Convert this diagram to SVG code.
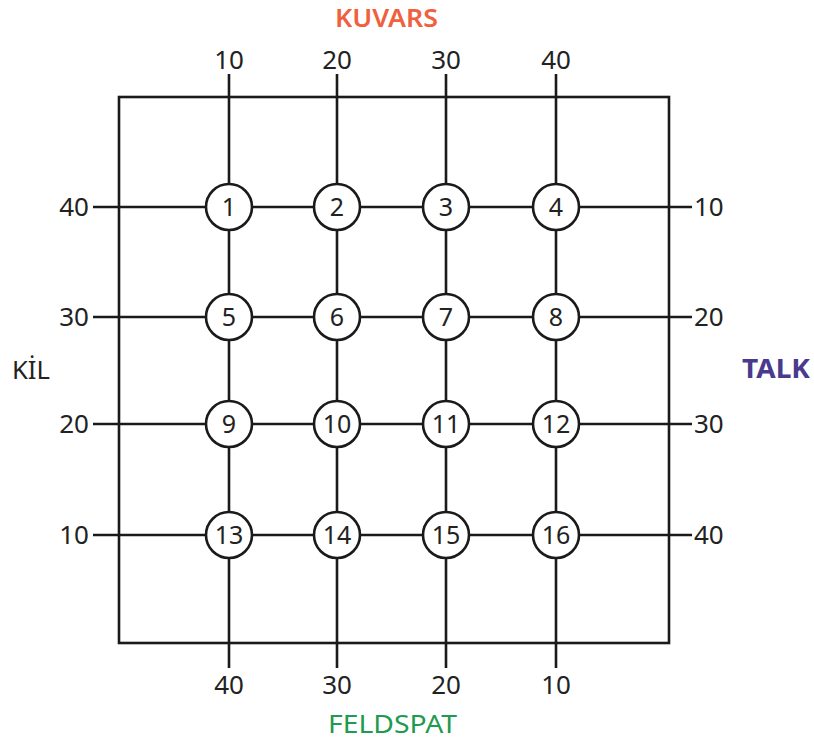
<svg xmlns="http://www.w3.org/2000/svg" width="814" height="742" viewBox="0 0 814 742">
<style>
.ln{stroke:#1a1a1a;stroke-width:2.6;fill:none}
.nd{fill:#fff;stroke:#1a1a1a;stroke-width:2.6}
.t{font-family:"Noto Sans","Liberation Sans",sans-serif;font-size:26px;fill:#222}
.n{font-family:"Noto Sans","Liberation Sans",sans-serif;font-size:25px;fill:#222;text-anchor:middle}
.c{text-anchor:middle}
.e{text-anchor:end}
.h{font-family:"Noto Sans","Liberation Sans",sans-serif;font-size:26px}
</style>
<rect width="814" height="742" fill="#fff"/>
<g id="connectors">
<rect class="ln" x="119" y="97" width="550" height="546"/>
<line class="ln" x1="229" y1="74" x2="229" y2="668"/>
<line class="ln" x1="337" y1="74" x2="337" y2="668"/>
<line class="ln" x1="446" y1="74" x2="446" y2="668"/>
<line class="ln" x1="556" y1="74" x2="556" y2="668"/>
<line class="ln" x1="93" y1="207" x2="692" y2="207"/>
<line class="ln" x1="93" y1="317" x2="692" y2="317"/>
<line class="ln" x1="93" y1="424" x2="692" y2="424"/>
<line class="ln" x1="93" y1="535" x2="692" y2="535"/>
</g>
<g id="axis-labels">
<text class="h" x="335" y="27" fill="#ef603e" font-weight="600" font-size="22" textLength="103" lengthAdjust="spacingAndGlyphs">KUVARS</text>
<text class="h" x="328" y="733" fill="#1f9a4e" textLength="129" lengthAdjust="spacingAndGlyphs">FELDSPAT</text>
<text class="h" x="12" y="379" fill="#222" font-size="25" textLength="38" lengthAdjust="spacingAndGlyphs">KİL</text>
<text class="h" x="742" y="378" fill="#4a3a8e" font-weight="bold" textLength="68" lengthAdjust="spacingAndGlyphs">TALK</text>
<text class="t c" x="229" y="69">10</text>
<text class="t c" x="337" y="69">20</text>
<text class="t c" x="446" y="69">30</text>
<text class="t c" x="556" y="69">40</text>
<text class="t c" x="229" y="694">40</text>
<text class="t c" x="337" y="694">30</text>
<text class="t c" x="446" y="694">20</text>
<text class="t c" x="556" y="694">10</text>
<text class="t e" x="89" y="216">40</text>
<text class="t e" x="89" y="326">30</text>
<text class="t e" x="89" y="433">20</text>
<text class="t e" x="89" y="544">10</text>
<text class="t" x="694" y="216">10</text>
<text class="t" x="694" y="326">20</text>
<text class="t" x="694" y="433">30</text>
<text class="t" x="694" y="544">40</text>
</g>
<g id="n1"><circle class="nd" cx="229" cy="207" r="23"/><text class="n" x="229" y="216">1</text></g>
<g id="n2"><circle class="nd" cx="337" cy="207" r="23"/><text class="n" x="337" y="216">2</text></g>
<g id="n3"><circle class="nd" cx="446" cy="207" r="23"/><text class="n" x="446" y="216">3</text></g>
<g id="n4"><circle class="nd" cx="556" cy="207" r="23"/><text class="n" x="556" y="216">4</text></g>
<g id="n5"><circle class="nd" cx="229" cy="317" r="23"/><text class="n" x="229" y="326">5</text></g>
<g id="n6"><circle class="nd" cx="337" cy="317" r="23"/><text class="n" x="337" y="326">6</text></g>
<g id="n7"><circle class="nd" cx="446" cy="317" r="23"/><text class="n" x="446" y="326">7</text></g>
<g id="n8"><circle class="nd" cx="556" cy="317" r="23"/><text class="n" x="556" y="326">8</text></g>
<g id="n9"><circle class="nd" cx="229" cy="424" r="23"/><text class="n" x="229" y="433">9</text></g>
<g id="n10"><circle class="nd" cx="337" cy="424" r="23"/><text class="n" x="337" y="433">10</text></g>
<g id="n11"><circle class="nd" cx="446" cy="424" r="23"/><text class="n" x="446" y="433">11</text></g>
<g id="n12"><circle class="nd" cx="556" cy="424" r="23"/><text class="n" x="556" y="433">12</text></g>
<g id="n13"><circle class="nd" cx="229" cy="535" r="23"/><text class="n" x="229" y="544">13</text></g>
<g id="n14"><circle class="nd" cx="337" cy="535" r="23"/><text class="n" x="337" y="544">14</text></g>
<g id="n15"><circle class="nd" cx="446" cy="535" r="23"/><text class="n" x="446" y="544">15</text></g>
<g id="n16"><circle class="nd" cx="556" cy="535" r="23"/><text class="n" x="556" y="544">16</text></g>
</svg>
